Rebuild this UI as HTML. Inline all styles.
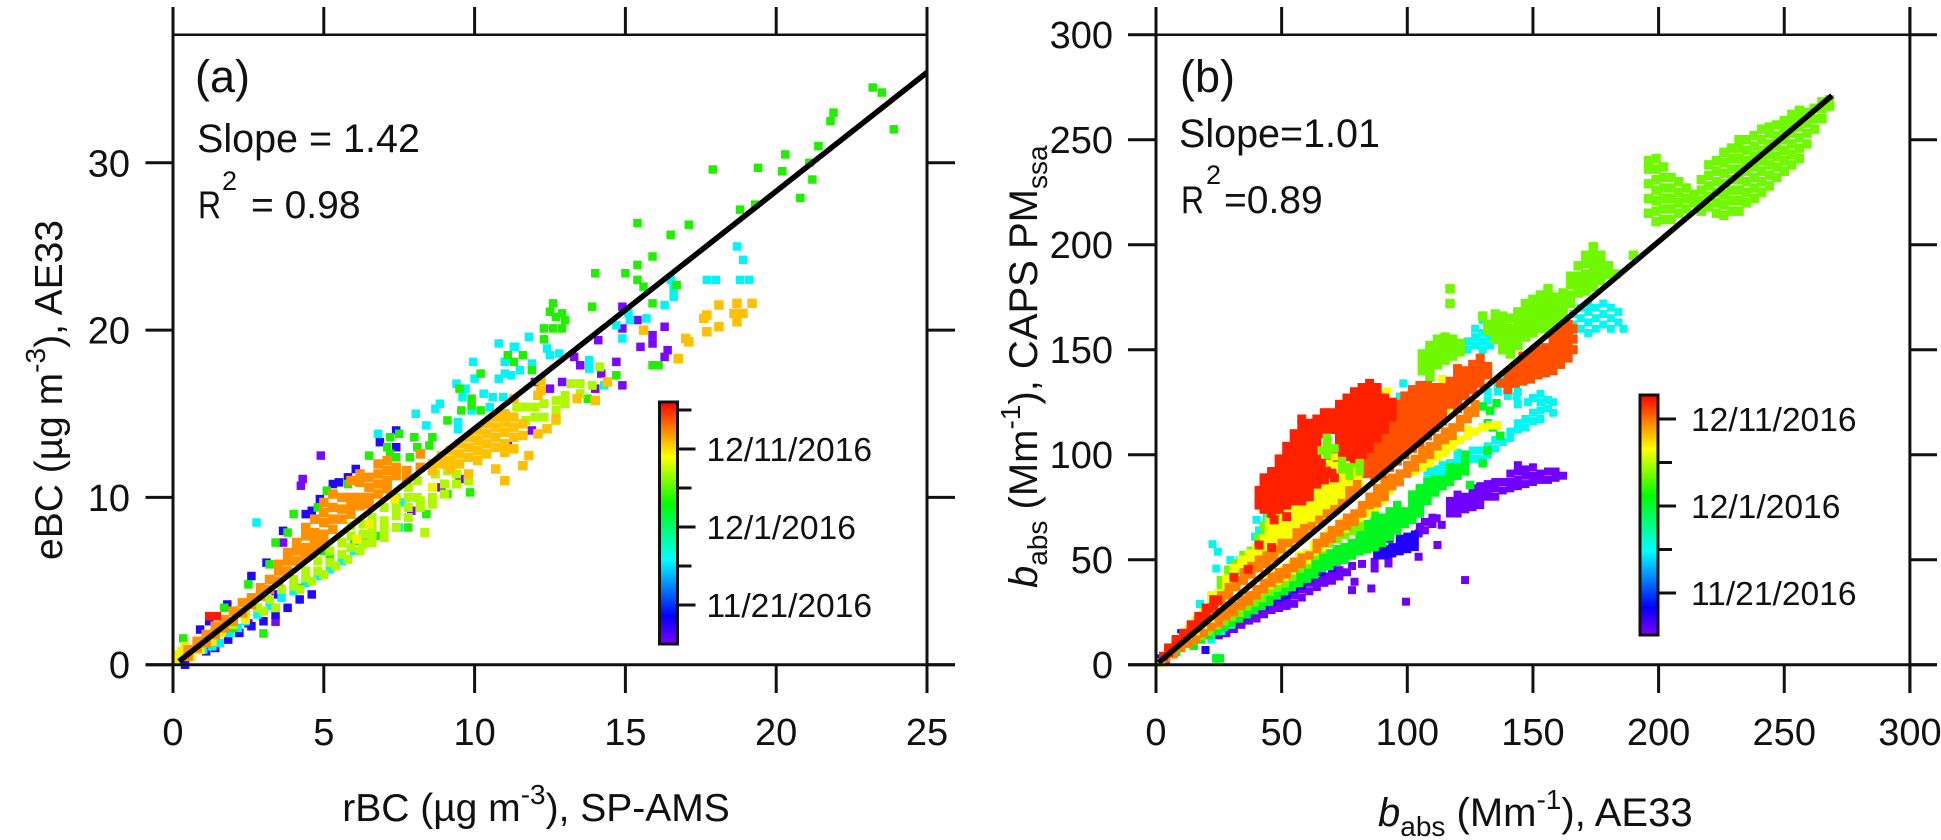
<!DOCTYPE html>
<html>
<head>
<meta charset="utf-8">
<title>eBC and babs comparison scatter plots</title>
<style>
html,body{margin:0;padding:0;background:#fff;}
svg{display:block;}
text{font-family:"Liberation Sans",sans-serif;fill:#111;font-size:38px;}
.axis{stroke:#111;stroke-width:3;fill:none;}
.title{font-size:40px;}
.minor{font-size:28px;}
</style>
</head>
<body>
<svg id="chart" width="1941" height="840" viewBox="0 0 1941 840" xmlns="http://www.w3.org/2000/svg">
<defs>
<linearGradient id="rainbow" x1="0" y1="0" x2="0" y2="1">
<stop offset="0" stop-color="#ff0000"/><stop offset="0.11" stop-color="#ff8000"/><stop offset="0.225" stop-color="#ffff00"/><stop offset="0.42" stop-color="#00ff00"/><stop offset="0.65" stop-color="#00ffff"/><stop offset="0.885" stop-color="#0000ff"/><stop offset="1" stop-color="#8000ff"/>
</linearGradient>
</defs>
<g id="marksA"></g>
<g id="marksB"></g>
<g id="axes"></g>

<text x="195" y="92" style="font-size:45px">(a)</text>
<text x="197" y="152" style="font-size:39.5px">Slope = 1.42</text>
<text x="198" y="218" textLength="23" lengthAdjust="spacingAndGlyphs" style="font-size:39px">R</text>
<text x="222" y="190" style="font-size:27px">2</text>
<text x="251" y="218" style="font-size:39px">= 0.98</text>

<text x="1180" y="92" style="font-size:45px">(b)</text>
<text x="1179" y="147" style="font-size:39.5px">Slope=1.01</text>
<text x="1181" y="213" textLength="23" lengthAdjust="spacingAndGlyphs" style="font-size:39px">R</text>
<text x="1206" y="184" style="font-size:27px">2</text>
<text x="1224" y="213" style="font-size:39px">=0.89</text>

<text class="title" x="536" y="821" text-anchor="middle" style="font-size:39px">rBC (µg m<tspan dy="-17" class="minor">-3</tspan><tspan dy="17">), SP-AMS</tspan></text>
<text class="title" text-anchor="middle" transform="translate(62,390) rotate(-90)" style="font-size:39px">eBC (µg m<tspan dy="-17" class="minor">-3</tspan><tspan dy="17">), AE33</tspan></text>
<text class="title" x="1378" y="826"><tspan style="font-style:italic">b</tspan><tspan dy="10" class="minor">abs</tspan><tspan dy="-10"> (Mm</tspan><tspan dy="-17" class="minor">-1</tspan><tspan dy="17">), AE33</tspan></text>
<text class="title" transform="translate(1037,588) rotate(-90)"><tspan style="font-style:italic">b</tspan><tspan dy="10" class="minor">abs</tspan><tspan dy="-10"> (Mm</tspan><tspan dy="-17" class="minor">-1</tspan><tspan dy="17">), CAPS PM</tspan><tspan dy="10" class="minor">ssa</tspan></text>

<script>
/* Axis tick values */
const aXTicks = [0, 5, 10, 15, 20, 25];
const aYTicks = [0, 10, 20, 30];
const bXTicks = [0, 50, 100, 150, 200, 250, 300];
const bYTicks = [0, 50, 100, 150, 200, 250, 300];

/* Fit lines, endpoints */
const aFitX = [0.2, 25];
const aFitY = [0.2, 35.4];
const bFitX = [1, 269];
const bFitY = [1, 271];

/* Colour scale: days from 11/21/2016 */
const scaleDays = [0, 5, 10, 15, 20, 25];
const scaleLabels = ['11/21/2016', '', '12/1/2016', '', '12/11/2016', ''];

/* Panel (a) series by colour. Each row: x, then the y values seen at that x. */
const aPurple = [[4.9,12.5],[4.3,11.1],[4.24,10.7],[7.9,9.2],[8.9,10.6],[9.5,11.1],[11.1,13.1],[3.65,7.3],[2.5,2.47],[3.4,2.57],[14.9,21.4,20.1,16.7],[15.4,20.6],[15.9,19.7,19.2],[16.3,20.2,18.4],[16.4,18.8],[15.5,19],[14.7,18.1],[14.1,19.4],[13.3,18.4],[13.5,17.9],[14.2,17.4],[12.9,16.9],[12.5,16.5],[14,16.5],[11.9,14],[12,16.9]];
const aBlue = [[0.4,0],[1.1,0.8],[1.4,1],[0.9,2.1],[1.83,1.5],[2.2,1.9],[2.6,2.3],[3,2.6],[3.4,3,4.2],[3.8,3.4],[4.2,3.9],[4.6,4.2,9.2],[3.65,8],[4.4,9],[4.87,9.9],[5.5,10.9],[6.06,11.7],[6.86,13.3],[7.4,14,13],[5.3,10.8],[5.8,11.2],[1.8,3.6],[2.6,5.3],[3.1,6.1],[1.2,2.6]];
const aCyan = [[1,0.9],[1.3,1.1],[1.55,1.3],[1.9,1.9],[2.15,2.2],[2.4,2.6],[2.8,3],[3.2,3.5],[3.6,4],[4,4.4],[4.4,4.9],[4.8,5.3],[5.2,5.7],[5.6,6.2],[6,6.8],[6.4,7.4],[7.6,9.7],[7.5,8.2],[2.77,8.5],[6.8,13.8],[8.05,15],[8.7,15.3],[8.85,15.6],[8.4,14.3],[9.95,18.1],[10.8,19.2,17.1],[11.35,19],[11.8,19.6],[10,17.1],[9.4,16.8],[11,17.4,18.1],[11.2,17.3],[11.5,17.6],[11.9,18],[9.7,16.5],[9.6,16],[10.3,16.2],[10.6,16],[10.95,16],[9.9,15.2],[9.45,14.5,14.1],[10.5,15.4],[16.3,21.5],[14.7,20.3],[15.15,20.6],[15.7,20.7],[15.1,21],[14.9,19.5],[11.3,19],[12.4,18.9],[12.5,18.5],[12.8,18.6],[13.8,18.2,17.7],[14.3,16.7],[18.7,25],[18.9,24.2],[18.8,23],[19.1,23],[17.7,23],[18,23],[16.6,22.5,22],[16.5,23]];
const aGreen = [[0.34,1.57],[3,1.87],[1.7,3.4],[2.5,4.8],[3.2,6],[3.4,7.3],[3.8,7.9],[4,9],[4.8,9.4],[5.1,10.4],[5.8,10.8],[6.5,12.5],[6.8,12],[7.1,13],[7.2,13.6,12.6],[7.4,12.4],[7.5,13.8],[7.85,12.4],[8,13.6],[8.1,13],[8.6,13.6],[8.5,13.1],[9.1,14.6,10.2],[9.85,10.3],[9.5,16.5],[9.9,15.9,15.5],[9.56,15.2],[10.2,15.2,17.4],[11.1,18.5],[11.6,18.5],[11.3,18.1],[11.9,17.6],[12.6,21.6,20.1],[13.9,21.4],[12.5,21.1],[12.7,20.8],[12.9,21,20.1],[13,20.6],[12.3,20.1,19.45],[14.7,17.3],[15.9,17.9],[16.1,17.9],[13.75,15.9],[5.2,6.5],[6,7.4],[5,6.8],[14,23.4],[15,23.4],[15.4,23],[15.9,24.4],[15.4,23.9],[15.4,26.4],[16.5,25.7],[17.1,26.3],[16.7,22.7],[15.6,22.6],[15.9,21.6],[18.8,27.2],[19.3,27.5],[17.9,29.6],[19.4,29.7],[20.2,29.5],[20.8,27.9],[21.1,30],[21.2,29],[21.4,31],[21.8,32.5],[21.9,33],[23.2,34.5],[23.5,34.2],[23.9,32],[20.3,30.5],[7.8,8.2],[8.4,9],[2,2.2],[4.2,4.6],[6.8,7.7]];
const aLime = [[2,2.4],[2.4,3],[2.8,3.4],[3,3.2],[3.2,3.9],[3.4,3.4],[3.6,4.5],[4,5.1,4.7],[4.2,4.5],[4.4,5.6,5.2],[4.6,5],[4.8,6.2,5.6],[5,5.4],[5.2,6.8,6.1],[5.4,5.9],[5.6,7.3,6.6],[5.8,6.3],[5.9,8.3,7.7,7],[6.2,6.8],[6.3,8.4,7.8,7.2],[6.6,8.8,8.3,7.8,7.3],[7,9.4,8.6,8.1,7.6],[7.4,10,9.4,8.9,8.2],[7.8,10.6,10,9.4,8.8],[8.1,11,10],[8.2,9.4,9.8],[8.35,7.9],[8.6,10,9.6],[8.7,11.4],[9,10.8,10.2],[9.1,11.6],[9.4,11.4,10.8],[9.8,11],[11.4,15.4],[11.7,15.4,14.6],[12,15.4,14.8],[12.3,15.6,14.8],[12.7,15.8,15.2,14.6],[13,16.1,15.6],[13.2,16.8],[13.5,16.8,16.2],[13.9,16.7],[14.15,17.8]];
const aYellow = [[0.1,0.2],[0.15,0.6],[0.3,0.8],[0.4,1.1],[0.6,0.5],[0.9,0.9],[1.3,1.4],[1.6,1.9],[2.4,2.7],[6.1,7.5],[6.5,8.4],[7.35,9.9],[8.6,10.6]];
const aAmber = [[8.6,12,11.6],[8.9,12.5,12],[9.2,12.8,12.2,11.7],[9.5,13.2,12.6,12],[9.8,13.6,13,12.4,11.4],[10.1,14,13.4,12.8,12.2],[10.4,14.4,13.8,13.2,12.6],[10.7,14.8,14.2,13.6,13,11.7],[11,15,14.5,13.9,13.2,12.7,11],[11.3,15.9,14.8,14.2,13.6,12.9],[11.6,14.4,13.7,11.9],[11.8,12.5],[12.1,13.8,16.1],[12.4,14.1],[12.7,14.7],[12.2,17,16.4],[13.4,15.9],[14,15.8],[14.4,16.9],[15.6,20],[17,19.5],[17.1,19.3],[16.75,18.3],[18.1,21.5,20.2],[18.7,21.6,20.5],[19.2,21.6],[17.7,20.9,19.9],[17.6,20.7],[18.9,21],[18.6,21]];
const aOrange = [[0.5,0.9,0.5],[0.8,1.4,1],[1.1,1.8,1.3],[1.4,2.3,1.8],[1.7,2.7,2.2],[2,3.2,2.6],[2.3,3.7,3.1],[2.6,4,3.6],[2.9,4.6,4.1],[3.2,5.1,4.5],[3.5,5.6,5,6],[3.8,6.2,5.6,6.7],[4.1,7.3,6.8,6.2],[4.4,8.2,7.7,7,6.5],[4.7,8.7,7.9,7.4,6.9],[5,9.7,9.1,8.5,7.8,7.3],[5.3,10.2,9.4,8.7,8.1],[5.6,10,9.3,8.7],[5.9,11,10,9.5,9],[6.2,11.4,10.9,10,9.5],[6.5,11.2,10.6,10,9.6],[6.8,12,11.4,10.8,10.2],[7.1,12.2,11.6,11,10.5],[7.4,11.8,11.3],[7.75,11.6,11.1],[8.2,12.6,11.8]];
const aRed = [[1.2,2.9],[1.45,2.9]];

/* Panel (b) series by colour. Each row: x, then the y values seen at that x. */
const bPurple = [[25,14],[28,15,18],[31,17,20],[34,19,22],[37,21,24],[40,22,25],[43,24,27],[46,26,29],[49,27,30],[52,28,31],[55,29,33],[58,32,36],[61,35,39],[64,37,40],[67,39,42],[70,40,43],[73,42,45],[76,44],[78,35.5,47],[79,39.5],[82,48],[85.7,36.3],[87,45.8,49],[92.5,48.2,52],[99.5,30],[104.5,51.4,62.5],[105,65.7],[107,68,64],[110,67,70],[111.7,69.7],[112,57],[113.7,66.6],[123,40.3],[117,72,75,78],[120,72,75,78,81],[123,74,77,80],[126,75,78,81,84],[129,76,79,82,85],[132,80,83,86],[135,80,84,87],[138,83,87],[141,84,87,91],[144,85,88,92,95],[147,86,90,93],[150,87,90,94],[153,88,91],[156,88,92],[159,89,92],[162,90]];
const bBlue = [[2,3],[4,2],[28,19],[31,21],[34,23],[37,25],[40,27,30],[43,28,31],[46,30,33],[49,32,35],[52,33,36],[55,36],[58,38],[61,41],[66,44],[70,46],[88,52,55],[91,52,55],[94,53,56],[97,54,57,60],[100,55,58,61],[103,56,59,62],[93,60],[19.7,7],[10,15],[5,7]];
const bCyan = [[22.5,57.4],[24.6,53.8],[24,45.8],[29.6,49.8],[33.5,49.8],[40,61,69],[17.5,28.9],[39.4,61],[41,64],[44,70],[22,12],[26,16],[30,19],[108,88,92],[111,90,93],[114,91,95],[117,93,96],[120,95,98,101],[123,96,100],[126,98,102],[129,98,102],[132,100,104],[135,103,107],[138,106,135],[141,108,111],[144,112,115,124,130],[147,113,117],[150,116,120,127],[153,117,121,125,129],[156,122,126],[158,120,125],[148,125],[140,128,132],[136,130,134],[143.5,127.7],[160,152,158],[163,155,160],[166,157,162,167],[169,160,165,170],[172,158,163,168,172],[175,160,165,170],[178,162,167,172],[181,160,165,170],[184,163,168],[186,160],[124,150,154],[127,152,156,160],[130,150,154,158,164],[133,152,156],[98.4,134],[97,127.7],[132,126,130]];
const bGreen = [[8,6],[15,9],[18,12],[21,14],[24,16,3],[25.4,3],[27,18],[30,20],[33,22],[36,24,27],[39,26,29],[42,28,31],[45,30,33],[48,33,36],[51,35,38],[54,37,40],[57,39,42,45],[60,41,44],[63,43,46,49],[66,46,49,52],[69,47,50,53],[72,49,52,55],[75,50,53,56],[78,52,55,58],[81,54,57,60,63],[84,55,58,61,64,67],[87,56,59,62,65,68,71],[90,58,61,64,67,70],[93,61,64,67,70,73],[96,64,67,70,73,76],[99,67,70,73],[102,69,72,75,78,81],[105,72,75,78,81,84],[108,78,81,84,87],[111,82,85,88],[114,85,88],[117,87,90,94],[120,90,94],[123,92,96,100],[125,85.6],[130,96,123],[132,102,115],[134,113],[137,109],[133,121],[135.5,124.5]];
const bLime = [[12,10],[15,12],[18,14],[21,16],[24,19],[27,21],[30,23],[33,25],[36,28],[39,30],[42,32],[45,35],[48,37],[51,39],[54,42],[57,46],[60,48],[63,52],[66,55],[69,58],[72,60],[75,62],[78,64],[81,66],[26,36,40],[29,41,45],[32,45,48],[35,49,52],[38,50,54],[41,56,60],[43,66],[44,60,64],[45,72],[47,67,71],[50,71],[78.5,94],[106,140,144,148],[109,137,141,145,149,152],[112,143,147,151,155],[115,145,149,153,156],[117,172,179],[118,147,151,155],[121,149,153],[130,166],[132,162,159],[135,155,159,163,167],[138,150,154,158,162,166],[141,148,152,156,160,165],[144,152,156,160,164,168],[147,156,160,164,168,172],[150,158,162,166,170,174],[153,160,164,168,172,176],[156,160,164,168,172,176,179],[159,163,167,171,175],[162,165,169,173,177],[165,172,176,181,185],[168,177,181,185,190],[171,178,182,186,191,195],[174,180,184,188,192,196,199],[177,183,187,191,195],[180,186,190],[183,186],[190,195],[196,215,222,229,236,240],[199,211,216,221,226,231,236,241],[202,212,217,222,227,232,237],[205,212,217,222,227,232],[208,215,220,225,230],[211,217,222,227],[214,220,224],[217,216,221,226,231],[220,218,223,228,233,238],[223,215,220,225,230,235,240],[226,214,219,224,229,234,239,244],[229,216,221,226,231,236,241,246],[232,216,221,226,231,236,241,246,250],[235,220,225,230,235,240,245,250],[238,222,227,232,237,242,247,252],[241,225,230,235,240,245,250,255],[244,228,233,238,243,248,253,256],[247,232,237,242,247,252,257],[250,235,240,245,250,255,259],[253,238,243,248,253,258,262],[256,241,246,251,256,261,264],[259,248,253,258,263],[262,255,260,265],[265,260,265,268],[268,266,269]];
const bYellow = [[2,1],[4,4],[7,7],[15,13],[18,15],[21,18],[24,20],[27,23],[30,25],[33,28],[36,30],[39,33],[42,36],[45,38,41,48,52,56,60,64,68],[48,40,43,52,56,60,64,68],[51,42,45,56,60,64,68,72],[54,45,48,58,62,66,70,74],[57,49,52,60,64,68,72,76],[60,50,53,64,68,72,76],[63,54,57,66,70,74,78,82],[66,56,59,68,72,76,80,84],[69,60,63,72,76,80,84],[72,63,75,79,83,87],[75,65,68,78,82,86,90],[78,68,80,84,88,92],[81,70,73,84,88],[84,72],[87,75],[90,78],[93,83],[96,87],[100,92,95],[103,92,96],[106,94,98],[109,96,100],[112,99,103],[115,101,105],[118,104,108],[121,107],[124,109,112],[127,111],[130,113],[133,114],[136,114],[10,13],[13,17],[16,21],[19,25],[22,30,33],[25,34],[28,38,41],[31,42,46],[34,47,50],[37,47,50,53],[40,50,53,56],[43,54,57,60],[46,58,61,64],[49,62,65,68],[52,66,69],[55,70,73],[58,72,75],[61,75,78],[64,78,81],[67,80,84],[70,84,88],[73,83,87,91],[76,86,90,94],[80,85,89],[91.8,130],[114,136],[131.6,141],[115.6,121]];
const bOrange = [[4,3],[7,5],[10,8],[13,10],[16,12],[19,15],[22,18],[25,20,23],[28,23,26],[31,25,28],[34,28,31],[37,30,33],[40,33,36],[43,36,39],[46,39,42],[49,41,44],[52,43,46],[55,46,49],[58,48,51],[61,52],[64,55,58],[67,58,61],[70,60,64],[73,63,67],[76,66,70],[79,68,72],[82,72,76],[85,76,80],[88,77,80,84],[91,80,84,88],[94,85,89],[97,87,91],[100,91,95],[103,94,98],[106,98,102],[109,100,104],[112,104,108],[115,107,111],[118,109,113],[121,113,117],[124,117,121],[127,120,124],[20,24],[23,27],[26,30,33],[29,33,37],[32,37,40],[35,40,44],[38,43,47],[41,46,50],[44,48,52],[47,51,55],[50,55,58],[53,58],[56,60,63],[59,62,65],[62,66],[65,69],[68,72],[71,74],[74,77],[77,80,83],[80,83,86]];
const bRedOrange = [[84,91,95,99],[87,90,94,98,102,106],[90,91,95,99,103,107,111],[93,94,98,102,106,110,114,118],[96,97,101,105,109,113,117,121,124],[99,100,104,108,112,116,120,124,128],[102,103,107,111,115,119,123,127,131],[105,106,110,114,118,122,126,130,133],[108,109,113,117,121,125,129,133],[111,113,117,121,125,129,132],[114,116,120,124,128,132],[117,124,128,132,135],[120,122,126,130,134,138,141],[123,128,132,136,140],[126,131,135,139,143],[129,134,138,142,146],[132,138,142],[137,134],[140,131,135,139],[143,134,138,142],[146,135,139,143,147],[149,136,140,144,148],[152,138,142,146,150],[155,139,143,147,151],[158,140,144,148,152,156],[161,143,147,151,155,159],[164,146,150,154,158,162],[166,150,155,160]];
const bRed = [[3,4],[5,6,8],[8,10,12],[11,13,15],[14,16,19],[17,20,23],[20,23,27],[21,26.8],[23,28,31],[24.6,30.8],[31,41.6],[36.7,45.4],[41,57],[46,55.8],[47,69],[52,70.5],[71,89],[41,76,79,83],[43,74,78,82,86,89],[46,72,76,80,84,88,92],[49,74,78,82,86,90,94,98],[52,76,80,84,88,92,96,100,104],[55,78,82,86,90,94,98,102,106,110],[58,78,82,86,90,94,98,102,106,110,114,117],[61,80,84,88,92,96,100,104,108,112,115],[64,86,90,94,98,102,106,110,114,117],[67,88,92,96,110,113,117,120],[70,91,95,99,112,116,120],[73,96,100,104,108,112,116,120,124],[76,99,103,107,111,115,119,123,127],[79,98,102,106,110,114,118,122,126,130],[82,100,104,108,112,116,120,124,128,132],[85,103,107,111,115,119,123,127,131,134],[88,108,112,116,120,124,128,132],[91,112,116,120,124,127],[94,118,122,125]];
const bGreenPatch = [[66,102],[68,100,104,108],[71,103],[74,93,97],[77,90,94],[81,92,96]];
const bYellowPatch = [[69,96],[71,99,95]];

const NS = 'http://www.w3.org/2000/svg';
const aX = v => 173 + v * 30.16;
const aY = v => 664.7 - v * 16.73;
const bX = v => 1156 + v * 2.513;
const bY = v => 664.7 - v * 2.1;
const scaleAY = d => 605 - d * 7.8;
const scaleBY = d => 593 - d * 8.7;
const axesGroup = document.getElementById('axes');

function makeLine(x1, y1, x2, y2, width) {
  const el = document.createElementNS(NS, 'line');
  
  
  el.setAttribute('x1', x1);
  el.setAttribute('y1', y1);
  el.setAttribute('x2', x2);
  el.setAttribute('y2', y2);
  el.setAttribute('class', 'axis');
  if (width) el.style.strokeWidth = width;
  axesGroup.appendChild(el);
  return el;
}

function makeLabel(txt, x, y, anchor, size) {
  const el = document.createElementNS(NS, 'text');
  
  
  el.setAttribute('x', x);
  el.setAttribute('y', y);
  el.setAttribute('text-anchor', anchor);
  if (size) el.style.fontSize = size + 'px';
  el.textContent = txt;
  axesGroup.appendChild(el);
  return el;
}

function plotSeries(groupId, rows, color, fx, fy, size) {
  const group = document.getElementById(groupId);
  rows.forEach(function (row) {
    row.slice(1).forEach(function (yValue) {
      const el = document.createElementNS(NS, 'rect');
      
      
      el.setAttribute('x', fx(row[0]) - size / 2);
      el.setAttribute('y', fy(yValue) - size / 2);
      el.setAttribute('width', size);
      el.setAttribute('height', size);
      el.setAttribute('fill', color);
      group.appendChild(el);
    });
  });
}

function plotFit(groupId, xs, ys, fx, fy) {
  const el = document.createElementNS(NS, 'line');
  
  
  el.setAttribute('x1', fx(xs[0]));
  el.setAttribute('y1', fy(ys[0]));
  el.setAttribute('x2', fx(xs[1]));
  el.setAttribute('y2', fy(ys[1]));
  el.setAttribute('stroke', '#000');
  el.setAttribute('stroke-width', '5.5');
  document.getElementById(groupId).appendChild(el);
}

function drawColorBar(left, top, bottom, fy, days, labelX) {
  const el = document.createElementNS(NS, 'rect');
  
  
  el.setAttribute('x', left);
  el.setAttribute('y', top);
  el.setAttribute('width', 18);
  el.setAttribute('height', bottom - top);
  el.setAttribute('fill', 'url(#rainbow)');
  el.setAttribute('stroke', '#111');
  el.setAttribute('stroke-width', '3');
  axesGroup.appendChild(el);
  days.forEach(function (d) {
    const i = scaleDays.indexOf(d);
    const major = scaleLabels[i] !== '';
    makeLine(left + 18, fy(d), left + 18 + (major ? 18 : 14), fy(d));
    if (major) makeLabel(scaleLabels[i], labelX, fy(d) + 12, 'start', 33.6);
  });
}

/* Panel (a) marks */
plotSeries('marksA', aPurple, '#7a08ff', aX, aY, 8.5);
plotSeries('marksA', aBlue, '#2008ff', aX, aY, 8.5);
plotSeries('marksA', aCyan, '#00f4f8', aX, aY, 8.5);
plotSeries('marksA', aGreen, '#20f000', aX, aY, 8.5);
plotSeries('marksA', aLime, '#b0f800', aX, aY, 9);
plotSeries('marksA', aYellow, '#f4f000', aX, aY, 9);
plotSeries('marksA', aAmber, '#ffc000', aX, aY, 9.5);
plotSeries('marksA', aOrange, '#ff9000', aX, aY, 9.5);
plotSeries('marksA', aRed, '#ff1a00', aX, aY, 8.5);
plotFit('marksA', aFitX, aFitY, aX, aY);

/* Panel (b) marks */
plotSeries('marksB', bPurple, '#7000ff', bX, bY, 8);
plotSeries('marksB', bBlue, '#2000ff', bX, bY, 8);
plotSeries('marksB', bCyan, '#00f8f0', bX, bY, 8);
plotSeries('marksB', bGreen, '#00f820', bX, bY, 8.5);
plotSeries('marksB', bLime, '#70f800', bX, bY, 9.5);
plotSeries('marksB', bYellow, '#f8ff00', bX, bY, 8.5);
plotSeries('marksB', bOrange, '#ff8000', bX, bY, 8.5);
plotSeries('marksB', bRedOrange, '#ff5000', bX, bY, 9);
plotSeries('marksB', bRed, '#ff2000', bX, bY, 9);
plotSeries('marksB', bGreenPatch, '#70f800', bX, bY, 8.5);
plotSeries('marksB', bYellowPatch, '#f8ff00', bX, bY, 7);
plotFit('marksB', bFitX, bFitY, bX, bY);

/* Panel (a) frame and ticks */
makeLine(aX(0), 34.7, aX(25), 34.7, 2.5);
makeLine(aX(0), 7, aX(0), 693);
makeLine(aX(25), 7, aX(25), 693);
makeLine(145.5, aY(0), 955, aY(0));
aXTicks.forEach(function (v) {
  makeLine(aX(v), 7, aX(v), 34.7);
  makeLine(aX(v), aY(0), aX(v), 693);
  makeLabel(String(v), aX(v), 745, 'middle');
});
aYTicks.forEach(function (v) {
  makeLine(145.5, aY(v), aX(0), aY(v));
  makeLine(aX(25), aY(v), 955, aY(v));
  makeLabel(String(v), 130, aY(v) + 13.5, 'end');
});

/* Panel (b) frame and ticks */
makeLine(bX(0), bY(300), 1937, bY(300), 2.5);
makeLine(bX(0), 7, bX(0), 693);
makeLine(bX(300), 7, bX(300), 693);
makeLine(1128, bY(0), 1937, bY(0));
bXTicks.forEach(function (v) {
  makeLine(bX(v), 7, bX(v), bY(300));
  makeLine(bX(v), bY(0), bX(v), 693);
  makeLabel(String(v), bX(v), 745, 'middle');
});
bYTicks.forEach(function (v) {
  makeLine(1128, bY(v), bX(0), bY(v));
  makeLine(bX(300), bY(v), 1937, bY(v));
  makeLabel(String(v), 1113, bY(v) + 13.5, 'end');
});

/* Colour scales */
drawColorBar(659.5, 402, 644, scaleAY, [0, 5, 10, 15, 20, 25], 706.5);
drawColorBar(1640, 395, 635, scaleBY, [0, 5, 10, 15, 20], 1691);
</script>
</svg>
</body>
</html>
